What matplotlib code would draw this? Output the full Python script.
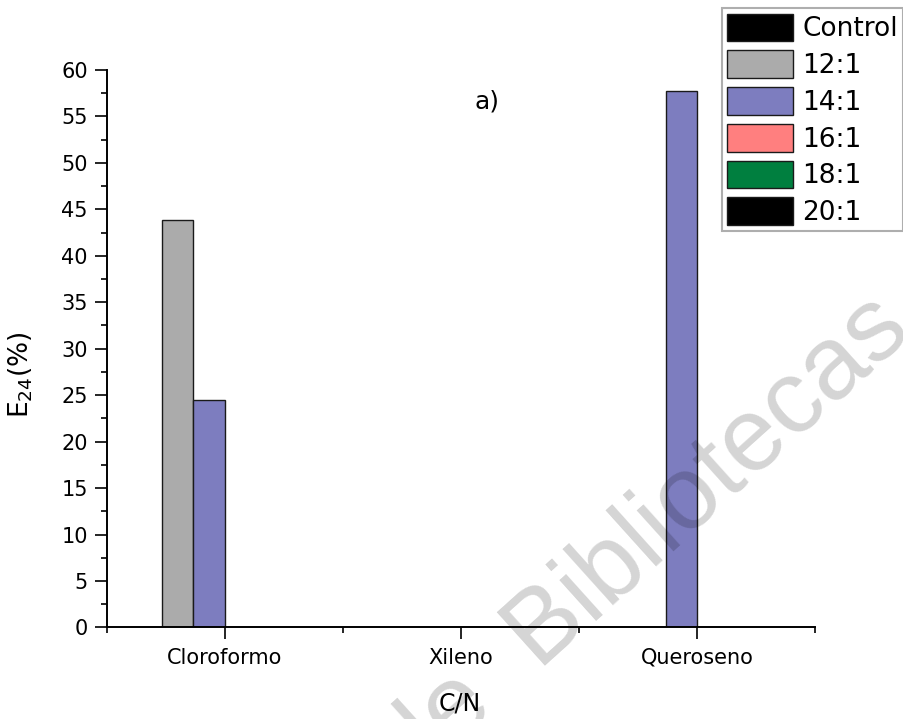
import numpy as np
import matplotlib
matplotlib.use("Agg")
import matplotlib.pyplot as plt
from matplotlib.ticker import MultipleLocator, FixedLocator

# data
solvents = ["Cloroformo", "Xileno", "Queroseno"]
series = ["Control", "12:1", "14:1", "16:1", "18:1", "20:1"]
control = [0, 0, 0]
cn_12 = [43.85, 0, 0]
cn_14 = [24.5, 0, 57.7]
cn_16 = [0, 0, 0]
cn_18 = [0, 0, 0]
cn_20 = [0, 0, 0]
colors = ["#000000", "#ABABAB", "#7D7DBF", "#FF7F7F", "#007F3F", "#000000"]

values = [control, cn_12, cn_14, cn_16, cn_18, cn_20]

plt.rcParams['font.family'] = ['DejaVu Sans']

fig = plt.figure(figsize=(9.04, 7.19), dpi=100)
ax = fig.add_axes([0.118, 0.1273, 0.7836, 0.7754])

x = np.arange(len(solvents))
w = 0.8 / len(series)
for i, (name, vals, c) in enumerate(zip(series, values, colors)):
    ax.bar(x + (i - 2.5) * w, vals, width=w, color=c, edgecolor='#1a1a1a',
           linewidth=1.0, label=name, zorder=2)

ax.set_xlim(-0.5, 2.5)
ax.set_ylim(0, 60)

for s in ['top', 'right']:
    ax.spines[s].set_visible(False)
for s in ['left', 'bottom']:
    ax.spines[s].set_linewidth(1.4)
    ax.spines[s].set_zorder(3)

ax.set_xticks(x)
ax.set_xticklabels(solvents)
ax.xaxis.set_minor_locator(FixedLocator([-0.5, 0.5, 1.5, 2.5]))
ax.yaxis.set_major_locator(MultipleLocator(5))
ax.yaxis.set_minor_locator(MultipleLocator(2.5))

ax.tick_params(axis='both', which='major', direction='out', length=8.5, width=1.2,
               labelsize=15, pad=5)
ax.tick_params(axis='both', which='minor', direction='out', length=4, width=1.2)
ax.tick_params(axis='x', which='major', pad=6)

ax.set_xlabel("C/N", fontsize=17)
ax.set_ylabel(r"E$_{24}$(%)", fontsize=19)
ax.xaxis.set_label_coords(0.499, -0.115)
ax.yaxis.set_label_coords(-0.101, 0.453)

leg = ax.legend(loc='upper left', bbox_to_anchor=(0.7983, 0.9885),
                bbox_transform=fig.transFigure, fontsize=19, frameon=True,
                fancybox=False, handlelength=2.5, handleheight=1.25,
                labelspacing=0.3, handletextpad=0.35, borderpad=0.2,
                borderaxespad=0)
leg.get_frame().set_edgecolor('#9a9a9a')
leg.get_frame().set_linewidth(1.5)

fig.text(487 / 904, 1 - 102 / 719, "a)", ha='center', va='center', fontsize=18)

# watermark of the source document
fig.text(644 / 904, 1 - 540 / 719, "de  Bibliotecas", family='Liberation Sans',
         fontsize=75, color='black', alpha=0.17, rotation=42,
         ha='center', va='center', rotation_mode='anchor', zorder=10)

fig.savefig("out.png", dpi=100)
